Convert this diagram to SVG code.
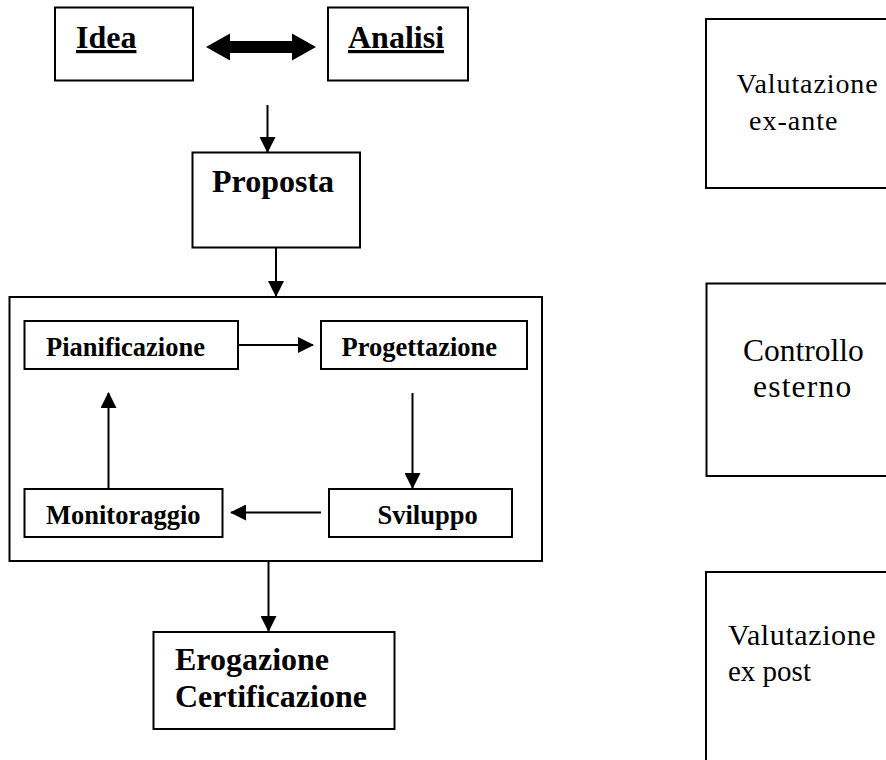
<svg xmlns="http://www.w3.org/2000/svg" width="886" height="760" viewBox="0 0 886 760">
<defs>
<marker id="ah" markerUnits="userSpaceOnUse" markerWidth="16" markerHeight="16" refX="15" refY="8" orient="auto">
<path d="M0,0 L16,8 L0,16 z" fill="#000"/>
</marker>
<style>
.box{fill:#fff;stroke:#000;stroke-width:2}
.b{font-family:"Liberation Serif","Times New Roman",serif;font-weight:bold;fill:#000}
.r{font-family:"Liberation Serif","Times New Roman",serif;fill:#000}
.big{font-size:32px}
.mid{font-size:26.5px}
.con{stroke:#000;stroke-width:2;fill:none;marker-end:url(#ah)}
</style>
</defs>
<rect width="886" height="760" fill="#fff"/>
<g id="idea">
<rect class="box" x="55" y="7.5" width="138" height="73"/>
<text class="b big" x="76" y="48" text-decoration="underline">Idea</text>
</g>
<g id="analisi">
<rect class="box" x="328" y="7.5" width="140" height="73"/>
<text class="b big" x="348" y="48" text-decoration="underline">Analisi</text>
</g>
<g id="proposta">
<rect class="box" x="192.5" y="152.5" width="167.5" height="95"/>
<text class="b big" x="212" y="192">Proposta</text>
</g>
<g id="ciclo">
<rect class="box" x="9.5" y="297" width="532.5" height="264"/>
</g>
<g id="pianificazione">
<rect class="box" x="24.5" y="321" width="213.5" height="48"/>
<text class="b mid" x="46" y="356">Pianificazione</text>
</g>
<g id="progettazione">
<rect class="box" x="321" y="321" width="206" height="48"/>
<text class="b mid" x="341.5" y="356">Progettazione</text>
</g>
<g id="sviluppo">
<rect class="box" x="329" y="489" width="183" height="48"/>
<text class="b mid" x="377.5" y="523.5">Sviluppo</text>
</g>
<g id="monitoraggio">
<rect class="box" x="24.5" y="489" width="198" height="48"/>
<text class="b mid" x="46" y="523.5">Monitoraggio</text>
</g>
<g id="erogazione">
<rect class="box" x="153.5" y="632" width="241" height="97"/>
<text class="b big" x="175" y="670">Erogazione</text>
<text class="b big" x="175" y="707">Certificazione</text>
</g>
<g id="exante">
<rect class="box" x="706" y="19" width="200" height="169"/>
<text class="r" font-size="28" letter-spacing="0.9" x="736.5" y="93">Valutazione</text>
<text class="r" font-size="28" letter-spacing="1" x="749" y="130">ex-ante</text>
</g>
<g id="controllo">
<rect class="box" x="706.5" y="283.5" width="200" height="192.5"/>
<text class="r" font-size="31.5" x="743" y="361">Controllo</text>
<text class="r" font-size="31.5" letter-spacing="1.2" x="753" y="397">esterno</text>
</g>
<g id="expost">
<rect class="box" x="706" y="572" width="200" height="200"/>
<text class="r" font-size="30" letter-spacing="0.6" x="728" y="645">Valutazione</text>
<text class="r" font-size="29" x="728" y="681">ex post</text>
</g>
<g id="connectors">
<polygon points="206,47 230,33.5 230,41 292,41 292,33.5 316,47 292,60.5 292,53 230,53 230,60.5" fill="#000"/>
<line class="con" x1="267.5" y1="105" x2="267.5" y2="152"/>
<line class="con" x1="276" y1="248" x2="276" y2="296"/>
<line class="con" x1="238" y1="345" x2="313" y2="345"/>
<line class="con" x1="412.5" y1="393" x2="412.5" y2="488"/>
<line class="con" x1="321" y1="512.5" x2="231" y2="512.5"/>
<line class="con" x1="108.5" y1="489" x2="108.5" y2="393"/>
<line class="con" x1="268.5" y1="561" x2="268.5" y2="631"/>
</g>
</svg>
